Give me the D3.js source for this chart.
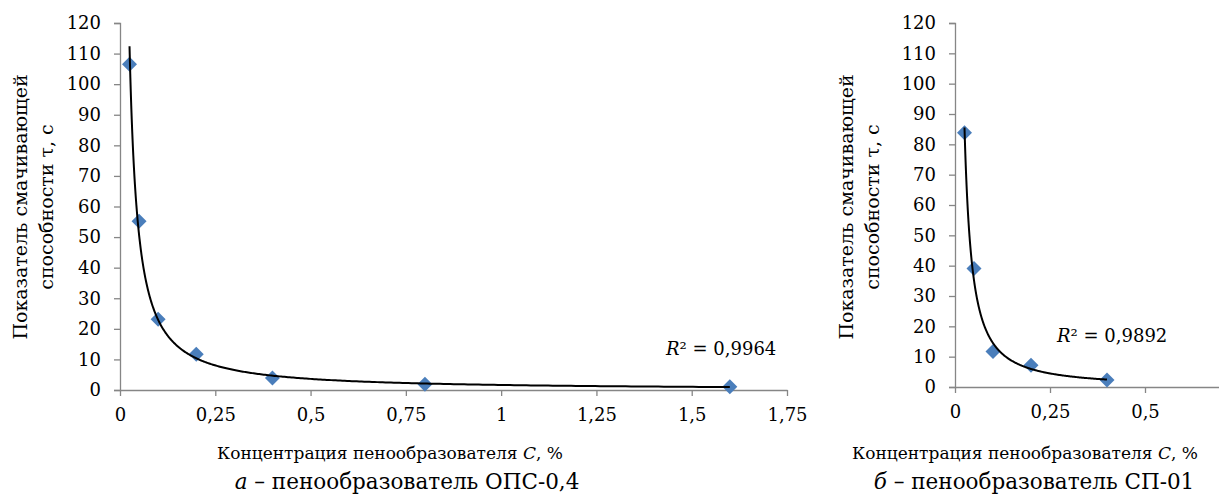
<!DOCTYPE html>
<html>
<head>
<meta charset="utf-8">
<script src="https://cdn.jsdelivr.net/npm/d3@7"></script>
<style>
    body { margin: 0; background: #fff; }
    .axis path, .axis line { stroke: #868686; stroke-width: 1.3; }
</style>
</head>
<body>
<div class="chart-container"></div>
<script>
// data: panel a (ОПС-0,4)
const concA = [0.025, 0.05, 0.1, 0.2, 0.4, 0.8, 1.6];
const tauA = [106.5, 55.2, 23.1, 11.7, 3.9, 1.9, 1.1];
const r2A = '0,9964';

// data: panel b (СП-01)
const concB = [0.025, 0.05, 0.1, 0.2, 0.4];
const tauB = [83.8, 39.1, 11.7, 7.2, 2.3];
const r2B = '0,9892';

// tick labels
const yTicks = [0, 10, 20, 30, 40, 50, 60, 70, 80, 90, 100, 110, 120];
const xTicksA = [0, 0.25, 0.5, 0.75, 1, 1.25, 1.5, 1.75];
const xTicksB = [0, 0.25, 0.5];

const yTitle = ['Показатель смачивающей', 'способности τ, с'];

const FONT = 'DejaVu Serif';

// power trendline, least squares in log space (as Excel does)
function powerFit(xs, ys) {
    const lx = xs.map(Math.log), ly = ys.map(Math.log);
    const mx = d3.mean(lx), my = d3.mean(ly);
    const b = d3.sum(lx, (v, i) => (v - mx) * (ly[i] - my)) / d3.sum(lx, v => (v - mx) ** 2);
    const a = Math.exp(my - b * mx);
    return x => a * Math.pow(x, b);
}

const fmt = d => String(d).replace('.', ',');

const svg = d3.select('.chart-container')
    .append('svg')
    .attr('width', 1219)
    .attr('height', 495)
    .style('font-family', FONT);

function drawPanel(cfg) {
    const xScale = d3.scaleLinear().domain(cfg.xDomain).range(cfg.xRange);
    const yScale = d3.scaleLinear().domain([0, 120]).range([cfg.bottom, 23]);

    const clipId = 'clip-' + cfg.id;
    svg.append('clipPath').attr('id', clipId)
        .append('rect')
        .attr('x', cfg.xRange[0]).attr('y', 23)
        .attr('width', cfg.xRange[1] - cfg.xRange[0])
        .attr('height', cfg.bottom - 23);

    // axes
    const xAxisDraw = svg.append('g')
        .attr('class', 'axis')
        .attr('transform', `translate(0, ${cfg.bottom})`)
        .call(d3.axisBottom(xScale).tickValues(cfg.xTicks).tickFormat(fmt).tickSizeInner(6).tickSizeOuter(0).tickPadding(12));

    const yAxisDraw = svg.append('g')
        .attr('class', 'axis')
        .attr('transform', `translate(${cfg.xRange[0]}, 0)`)
        .call(d3.axisLeft(yScale).tickValues(yTicks).tickSizeInner(6).tickSizeOuter(6).tickPadding(13));

    [xAxisDraw, yAxisDraw].forEach(g => g
        .attr('font-size', 18)
        .selectAll('text').attr('fill', '#000').style('font-family', FONT));

    // points
    const r = 7.5;
    const diamond = `M0,${-r}L${r},0L0,${r}L${-r},0Z`;
    svg.append('g')
        .selectAll('path')
        .data(cfg.xs.map((x, i) => ({ x, y: cfg.ys[i] })))
        .join('path')
        .attr('d', diamond)
        .attr('transform', d => `translate(${xScale(d.x)}, ${yScale(d.y)})`)
        .attr('fill', '#4a7ebb');

    // trendline
    const fit = powerFit(cfg.xs, cfg.ys);
    const lo = d3.min(cfg.xs), hi = d3.max(cfg.xs);
    const samples = d3.range(0, 401).map(i => lo * Math.pow(hi / lo, i / 400));
    svg.append('path')
        .datum(samples)
        .attr('clip-path', `url(#${clipId})`)
        .attr('fill', 'none')
        .attr('stroke', '#000')
        .attr('stroke-width', 2)
        .attr('d', d3.line().x(d => xScale(d)).y(d => yScale(Math.min(fit(d), 130))));

    // R² label
    const r2 = svg.append('text')
        .attr('x', cfg.r2Pos[0]).attr('y', cfg.r2Pos[1])
        .attr('font-size', 18).style('font-family', FONT);
    r2.append('tspan').attr('font-style', 'italic').text('R');
    r2.append('tspan').text('² = ' + cfg.r2);

    // y title
    const yt = svg.append('text')
        .attr('transform', `translate(${cfg.yTitleX}, 207) rotate(-90)`)
        .attr('text-anchor', 'middle')
        .attr('font-size', 19).style('font-family', FONT);
    yt.append('tspan').attr('x', 0).attr('dy', 0).text(yTitle[0]);
    yt.append('tspan').attr('x', 0).attr('dy', 26).text(yTitle[1]);

    // x title
    const xt = svg.append('text')
        .attr('x', cfg.xTitleX).attr('y', 459)
        .attr('text-anchor', 'middle')
        .attr('font-size', 17).style('font-family', FONT);
    xt.append('tspan').text('Концентрация пенообразователя ');
    xt.append('tspan').attr('font-style', 'italic').text('C');
    xt.append('tspan').text(', %');

    // caption
    const cap = svg.append('text')
        .attr('x', cfg.capX).attr('y', 489)
        .attr('text-anchor', 'middle')
        .attr('font-size', 21.5).style('font-family', FONT);
    cap.append('tspan').attr('font-style', 'italic').text(cfg.capLetter);
    cap.append('tspan').text(' – ' + cfg.caption);
}

drawPanel({
    id: 'a', xs: concA, ys: tauA, r2: r2A,
    xDomain: [0, 1.75], xRange: [120, 787], bottom: 390, xTicks: xTicksA,
    r2Pos: [666, 355], yTitleX: 27, xTitleX: 390, capX: 407,
    capLetter: 'а', caption: 'пенообразователь ОПС-0,4'
});

drawPanel({
    id: 'b', xs: concB, ys: tauB, r2: r2B,
    xDomain: [0, 0.7], xRange: [955, 1221], bottom: 387, xTicks: xTicksB,
    r2Pos: [1057, 342], yTitleX: 853, xTitleX: 1025, capX: 1034,
    capLetter: 'б', caption: 'пенообразователь СП-01'
});
</script>
</body>
</html>
